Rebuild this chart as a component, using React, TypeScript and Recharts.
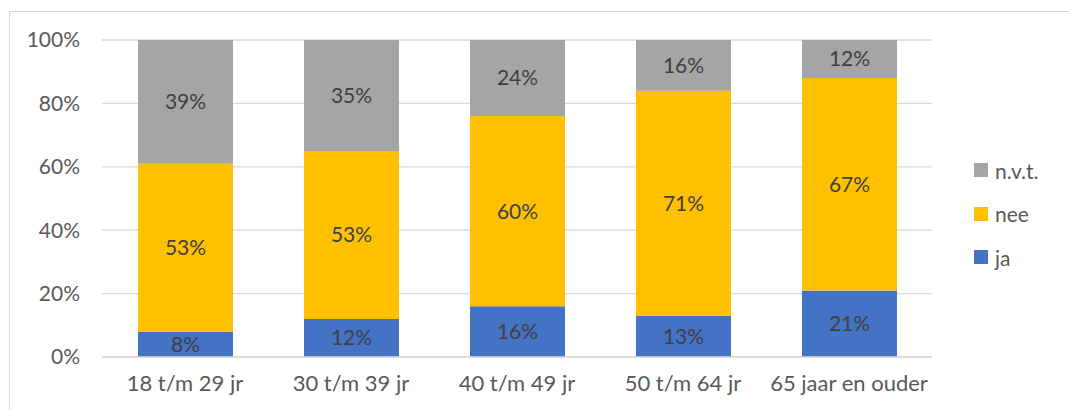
import React from "react";
import { BarChart, Bar, XAxis, YAxis, CartesianGrid, LabelList } from "recharts";

const categories = ["18 t/m 29 jr", "30 t/m 39 jr", "40 t/m 49 jr", "50 t/m 64 jr", "65 jaar en ouder"];
const ja = [8, 12, 16, 13, 21];
const nee = [53, 53, 60, 71, 67];
const nvt = [39, 35, 24, 16, 12];
const yTicks = [0, 20, 40, 60, 80, 100];

const data = categories.map((c, i) => ({ name: c, ja: ja[i], nee: nee[i], nvt: nvt[i] }));

const FONT = "Lato, 'Open Sans', sans-serif";
const FS = 21;
const legendItems = [
  { label: "n.v.t.", color: "#A5A5A5" },
  { label: "nee", color: "#FFC000" },
  { label: "ja", color: "#4472C4" },
];

const fmt = (v: any) => `${v}%`;

export default function App() {
  return (
    <div style={{ position: "absolute", left: 0, top: 0, width: 1069, height: 410, background: "#fff", overflow: "hidden" }}>
      <div style={{ position: "absolute", left: 9, top: 11, width: 1100, height: 450, border: "1px solid #d9d9d9", boxSizing: "border-box" }} />
      <BarChart
        width={1069}
        height={410}
        data={data}
        margin={{ top: 40, right: 137, bottom: 23, left: 0 }}
        barSize={95}
        style={{ position: "absolute", left: 0, top: 0 }}
      >
        <CartesianGrid vertical={false} stroke="#d9d9d9" strokeWidth={1.3} />
        <XAxis
          dataKey="name"
          height={30}
          axisLine={{ stroke: "#d9d9d9", strokeWidth: 1.3 }}
          tickLine={false}
          tick={{ fill: "#595959", fontSize: 22, fontFamily: FONT }}
          tickMargin={12}
        />
        <YAxis
          width={102}
          domain={[0, 100]}
          ticks={yTicks}
          tickFormatter={fmt}
          axisLine={false}
          tickLine={false}
          tickMargin={16}
          tick={{ fill: "#595959", fontSize: FS, fontFamily: FONT }}
        />
        <Bar dataKey="ja" stackId="a" fill="#4472C4" isAnimationActive={false}>
          <LabelList dataKey="ja" position="center" formatter={fmt} fill="#404040" fontSize={FS} fontFamily={FONT} />
        </Bar>
        <Bar dataKey="nee" stackId="a" fill="#FFC000" isAnimationActive={false}>
          <LabelList dataKey="nee" position="center" formatter={fmt} fill="#404040" fontSize={FS} fontFamily={FONT} />
        </Bar>
        <Bar dataKey="nvt" stackId="a" fill="#A5A5A5" isAnimationActive={false}>
          <LabelList dataKey="nvt" position="center" formatter={fmt} fill="#404040" fontSize={FS} fontFamily={FONT} />
        </Bar>
      </BarChart>
      <div style={{ position: "absolute", left: 974, top: 157, fontFamily: FONT, fontSize: FS, color: "#595959" }}>
        {legendItems.map((it) => (
          <div key={it.label} style={{ display: "flex", alignItems: "center", height: 26, marginBottom: 17.5 }}>
            <span style={{ display: "inline-block", width: 14, height: 14, background: it.color, marginRight: 7 }} />
            <span>{it.label}</span>
          </div>
        ))}
      </div>
    </div>
  );
}
